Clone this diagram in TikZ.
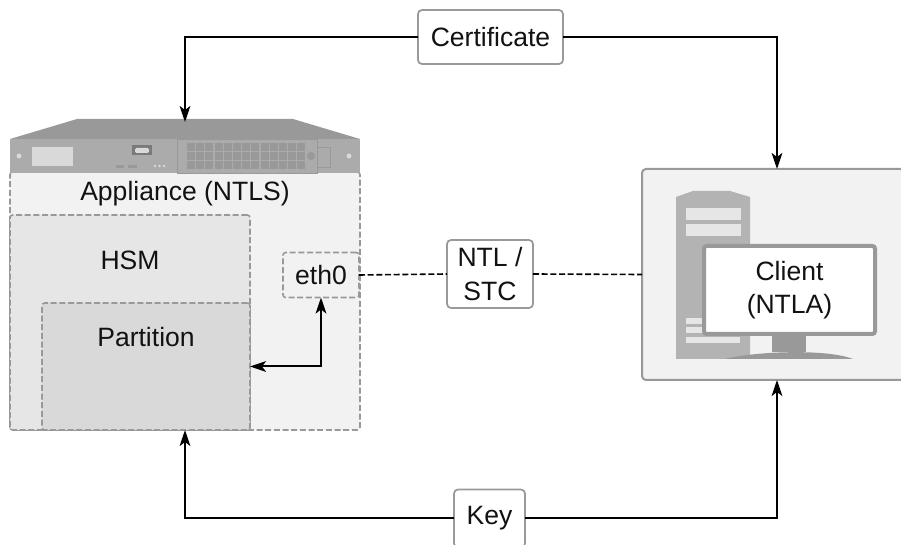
\documentclass[tikz,border=0pt]{standalone}
\usepackage{fontspec}
\setmainfont{Liberation Sans}
\usetikzlibrary{arrows.meta}
\definecolor{edgegray}{HTML}{999999}
\definecolor{applfill}{HTML}{F2F2F2}
\definecolor{hsmfill}{HTML}{E6E6E6}
\definecolor{partfill}{HTML}{D9D9D9}
\definecolor{towerfill}{HTML}{B3B3B3}
\definecolor{slotfill}{HTML}{E6E6E6}
\definecolor{topfill}{HTML}{999999}
\definecolor{frontfill}{HTML}{ABABAB}
\definecolor{gridfill}{HTML}{999999}
\tikzset{
  every node/.style={font=\fontsize{19.9}{25}\selectfont, text=black!93, inner sep=0pt, outer sep=0pt},
  sized/.style 2 args={minimum width=#1*0.75pt, minimum height=#2*0.75pt},
  labelbox/.style={draw=edgegray, line width=1.3pt, fill=white, rounded corners=3pt, align=center},
  dashbox/.style={draw=edgegray, line width=1.2pt, dash pattern=on 4.5pt off 2pt, rounded corners=2pt},
  link/.style={draw=black, line width=1.5pt, -{Stealth[length=12pt,width=8pt,inset=3pt]}},
  duallink/.style={draw=black, line width=1.5pt, {Stealth[length=12pt,width=8pt,inset=3pt]}-{Stealth[length=12pt,width=8pt,inset=3pt]}},
  dashlink/.style={draw=black, line width=1.2pt, dash pattern=on 4.5pt off 2pt},
}
\begin{document}
\begin{tikzpicture}[x=0.75pt,y=-0.75pt]
\useasboundingbox (0,0) rectangle (901,545);
\clip (0,0) rectangle (901,545);
% client
\node[sized={270}{211}, draw=edgegray, line width=1.5pt, fill=applfill, rounded corners=3pt] (client) at (777,274.5) {};
\fill[towerfill] (676,359) -- (676,197) -- (693,191) -- (730,191) -- (750,197) -- (750,359) -- cycle;
\fill[slotfill] (686,208) rectangle (741,220);
\fill[slotfill] (686,224) rectangle (741,236);
\fill[slotfill] (686,318) rectangle (741,324);
\fill[slotfill] (686,327) rectangle (741,333);
\fill[slotfill] (686,337) rectangle (740,343);
\fill[edgegray] (772,336) rectangle (806,352);
\fill[edgegray] (725,359) .. controls (750,352) and (825,348) .. (853,359) -- cycle;
\node[sized={171}{88}, draw=edgegray, line width=3pt, fill=white, rounded corners=2pt, align=center] (monitor) at (789.5,290) {Client\\(NTLA)};
% appliance
\node[sized={350}{258}, dashbox, fill=applfill] (appliance) at (185,301) {};
\node[anchor=base] (appltext) at (185,201) {Appliance (NTLS)};
\node[sized={240}{215}, dashbox, fill=hsmfill] (hsm) at (130,322.5) {};
\node[anchor=base] (hsmtext) at (130,270) {HSM};
\node[sized={208}{127}, dashbox, fill=partfill] (partition) at (146,366.5) {};
\node[anchor=base] (parttext) at (146,346.5) {Partition};
\node[sized={76}{45}, dashbox] (eth) at (321,275) {eth0};
% server
\fill[topfill] (10,139) -- (77,119) -- (293,119) -- (360,139) -- cycle;
\fill[frontfill] (10,139) rectangle (360,173);
\draw[gridfill, line width=.5pt, fill=frontfill] (177,139) rectangle (317,173);
\draw[gridfill, line width=.5pt] (317,147) -- (330,147) -- (330,167) -- (317,167);
\fill[partfill] (32,147) rectangle (73,166);
\fill[gridfill!80!black] (132,145) rectangle (152,155);
\fill[partfill, rounded corners=1pt] (135,148) rectangle (149,153);
\fill[gridfill] (116,165) rectangle (124,168);
\fill[gridfill] (128,165) rectangle (137,168);
\foreach \px in {155,159.5,164} \fill[partfill] (\px,166) circle[radius=1.3];
\fill[partfill] (19,156) circle[radius=2.5];
\fill[partfill] (349,156) circle[radius=2.5];
\foreach \ci in {0,...,12}
  \foreach \ri in {0,1,2}
    \fill[gridfill] (187+\ci*9.2,143+\ri*9) rectangle (195+\ci*9.2,151+\ri*9);
\fill[gridfill] (311,156) circle[radius=4];
\coordinate (servertop) at (185,122);
% labels
\node[sized={145}{54}, labelbox] (cert) at (490.5,37) {Certificate};
\node[sized={86}{68}, labelbox] (ntl) at (490,274) {NTL /\\STC};
\node[sized={71}{58}, labelbox] (key) at (489.5,518.5) {Key};
% connectors
\draw[link] (cert.west) -| (servertop);
\draw[link] (cert.east) -| (client.north);
\draw[link] (key.west) -| (appliance.south);
\draw[link] (key.east) -| (client.south);
\draw[dashlink] (eth.east) -- (ntl.west);
\draw[dashlink] (ntl.east) -- (client.west);
\draw[duallink] (eth.south) |- (partition.east);
\end{tikzpicture}
\end{document}
